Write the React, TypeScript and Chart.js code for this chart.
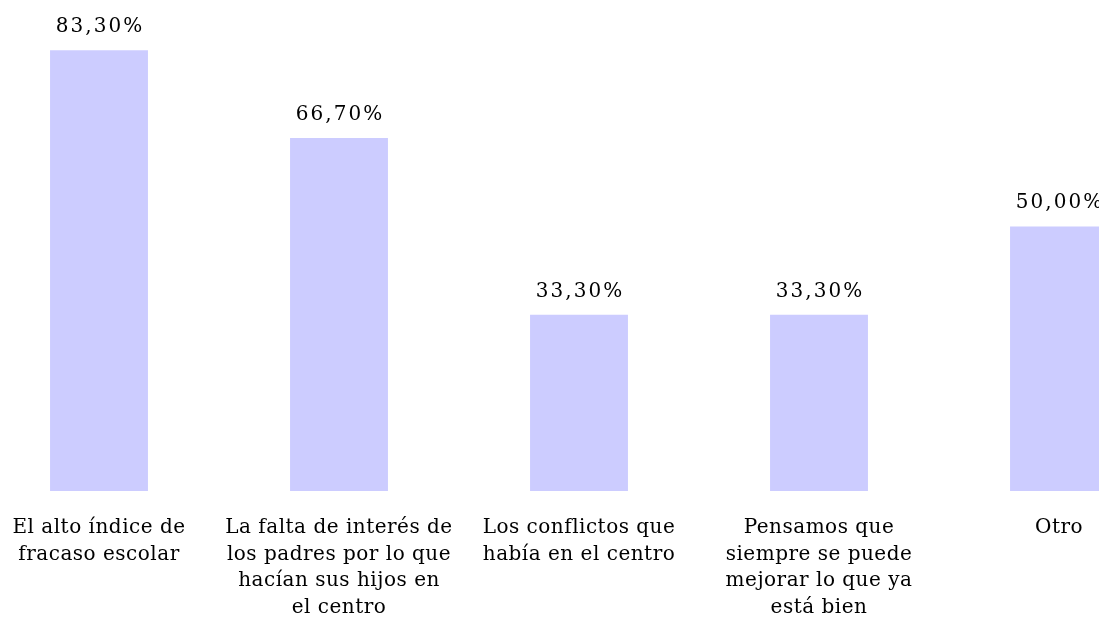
import React, { useEffect, useRef } from "react";
import { Chart, registerables } from "chart.js";

Chart.register(...registerables);

const categories: string[][] = [
  ["El alto índice de", "fracaso escolar"],
  ["La falta de interés de", "los padres por lo que", "hacían sus hijos en", "el centro"],
  ["Los conflictos que", "había en el centro"],
  ["Pensamos que", "siempre se puede", "mejorar lo que ya", "está bien"],
  ["Otro"],
];
const values: number[] = [83.3, 66.7, 33.3, 33.3, 50.0];
const yMax = 92.8;

const barColor = "#CCCCFF";
const fontFamily = "'DejaVu Serif', serif";

export default function App() {
  const ref = useRef<HTMLCanvasElement | null>(null);
  useEffect(() => {
    if (!ref.current) return;
    const spacingPlugin = {
      id: "spacing",
      beforeDraw(chart: any) {
        (chart.ctx as any).letterSpacing = "0.5px";
      },
    };
    const labelPlugin = {
      id: "valueLabels",
      afterDatasetsDraw(chart: any) {
        const ctx = chart.ctx;
        const meta = chart.getDatasetMeta(0);
        ctx.save();
        (ctx as any).letterSpacing = "2px";
        ctx.font = `20px ${fontFamily}`;
        ctx.fillStyle = "#000";
        ctx.textAlign = "center";
        ctx.textBaseline = "alphabetic";
        meta.data.forEach((bar: any, i: number) => {
          const txt = values[i].toFixed(2).replace(".", ",") + "%";
          ctx.fillText(txt, bar.x + 1, bar.y - 18);
        });
        ctx.restore();
      },
    };
    const chart = new Chart(ref.current, {
      type: "bar",
      data: {
        labels: categories,
        datasets: [
          {
            data: values,
            backgroundColor: barColor,
            borderWidth: 0,
            categoryPercentage: 1,
            barPercentage: 0.408,
          },
        ],
      },
      options: {
        responsive: false,
        animation: false,
        layout: { padding: 0 },
        plugins: { legend: { display: false }, tooltip: { enabled: false } },
        scales: {
          x: {
            grid: { display: false, drawTicks: false },
            border: { display: false },
            ticks: {
              autoSkip: false,
              maxRotation: 0,
              minRotation: 0,
              padding: 24,
              color: "#000",
              font: { family: fontFamily, size: 20, lineHeight: 1.325 },
            },
            afterFit(scale: any) {
              scale.height = 137;
            },
          },
          y: {
            display: false,
            min: 0,
            max: yMax,
          },
        },
      },
      plugins: [spacingPlugin, labelPlugin],
    });
    return () => chart.destroy();
  }, []);
  return (
    <div
      style={{
        position: "fixed",
        left: 0,
        top: 0,
        width: 1099,
        height: 628,
        overflow: "hidden",
        background: "#fff",
      }}
    >
      <canvas
        ref={ref}
        width={1200}
        height={628}
        style={{ position: "absolute", left: -21, top: 0, width: 1200, height: 628 }}
      />
    </div>
  );
}
